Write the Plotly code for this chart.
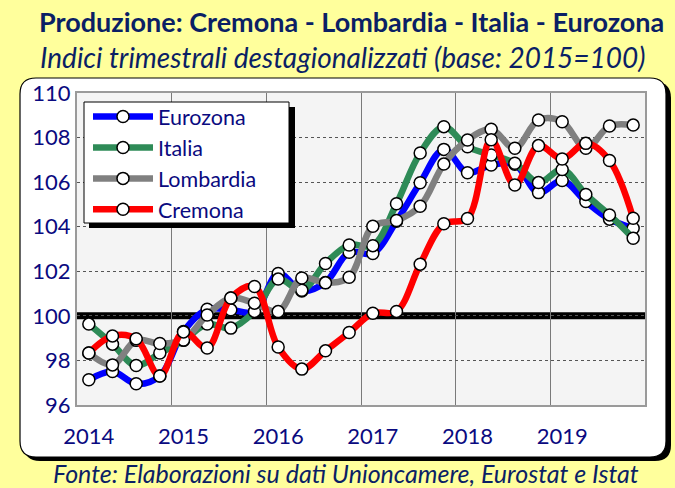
import plotly.graph_objects as go

# ---------------- data ----------------
years = [2014, 2015, 2016, 2017, 2018, 2019]
quarters = [1, 2, 3, 4]
tick_labels = ["2014", "2015", "2016", "2017", "2018", "2019"]

eurozona = [97.13, 97.50, 96.95, 97.30, 99.30, 100.30, 100.27, 100.18,
            101.90, 101.12, 101.50, 102.85, 102.80, 104.25, 105.97, 107.47,
            106.42, 106.77, 106.80, 105.53, 106.07, 105.13, 104.34, 103.93]
italia = [99.63, 98.73, 97.77, 98.33, 98.90, 99.63, 99.45, 100.20,
          101.65, 101.15, 102.35, 103.18, 103.15, 105.03, 107.31, 108.49,
          107.59, 107.22, 106.85, 105.98, 106.57, 105.45, 104.53, 103.48]
lombardia = [98.33, 97.80, 98.90, 98.76, 98.92, 100.04, 100.80, 100.57,
             100.19, 101.70, 101.48, 101.73, 104.02, 104.28, 104.92, 106.81,
             107.89, 108.37, 107.52, 108.79, 108.71, 107.52, 108.52, 108.56]
cremona = [98.33, 99.10, 98.97, 97.30, 99.28, 98.56, 100.80, 101.32,
           98.60, 97.61, 98.43, 99.25, 100.12, 100.20, 102.32, 104.13,
           104.37, 107.90, 105.87, 107.64, 107.04, 107.74, 106.97, 104.38]

series_names = ["Eurozona", "Italia", "Lombardia", "Cremona"]
series_values = [eurozona, italia, lombardia, cremona]
series_colors = ["#0000FF", "#2E8B57", "#808080", "#FF0000"]

# quarter centres on a continuous year axis
xq = [y + (q - 0.5) / 4 for y in years for q in quarters]
tick_pos = [y + 0.125 for y in years]

# ---------------- layout geometry ----------------
W, H = 675, 488
ML, MR, MT, MB = 77, 30, 93, 83
PW, PH = W - ML - MR, H - MT - MB


def px(x):
    return (x - ML) / PW


def py(y):
    return (H - MB - y) / PH


NAVY = "#0B1F65"
TICK = "#0A0A80"
FONT = "Lato, 'Open Sans', sans-serif"

fig = go.Figure()
for name, vals, col in zip(series_names, series_values, series_colors):
    fig.add_trace(go.Scatter(
        x=xq, y=vals, name=name, mode="lines+markers",
        line=dict(color=col, width=6.5, shape="spline", smoothing=1.0),
        marker=dict(symbol="circle", size=12, color="white",
                    line=dict(color="black", width=1.5)),
        legendgroup=name,
    ))


def rounded(x0, y0, x1, y1, r):
    rx, ry = r / PW, r / PH
    X0, X1 = px(x0), px(x1)
    Y0, Y1 = py(y0), py(y1)  # Y0 top, Y1 bottom
    return (f"M {X0 + rx} {Y0} L {X1 - rx} {Y0} Q {X1} {Y0} {X1} {Y0 - ry} "
            f"L {X1} {Y1 + ry} Q {X1} {Y1} {X1 - rx} {Y1} "
            f"L {X0 + rx} {Y1} Q {X0} {Y1} {X0} {Y1 + ry} "
            f"L {X0} {Y0 - ry} Q {X0} {Y0} {X0 + rx} {Y0} Z")


shapes = [
    dict(type="path", xref="paper", yref="paper", layer="below",
         path=rounded(24, 82, 671, 461, 16), fillcolor="black",
         line=dict(width=0)),
    dict(type="path", xref="paper", yref="paper", layer="below",
         path=rounded(20, 78, 666, 457, 16), fillcolor="white",
         line=dict(color="black", width=1.2)),
    dict(type="rect", xref="paper", yref="paper", layer="below",
         x0=0, x1=1, y0=0, y1=1, fillcolor="#F4F4F4", line=dict(width=0)),
    dict(type="line", xref="paper", yref="y", layer="between",
         x0=0, x1=1, y0=100, y1=100, line=dict(color="black", width=7)),
    # legend shadow + box
    dict(type="rect", xref="paper", yref="paper", layer="above",
         x0=px(89), x1=px(295), y0=py(228), y1=py(107),
         fillcolor="black", line=dict(width=0)),
    dict(type="rect", xref="paper", yref="paper", layer="above",
         x0=px(84), x1=px(289), y0=py(223), y1=py(102),
         fillcolor="white", line=dict(color="black", width=1)),
]

fig.update_layout(
    width=W, height=H,
    margin=dict(l=ML, r=MR, t=MT, b=MB),
    paper_bgcolor="#FFFF9C",
    plot_bgcolor="rgba(0,0,0,0)",
    shapes=shapes,
    showlegend=True,
    legend=dict(
        x=px(88), y=py(96), xanchor="left", yanchor="top",
        bgcolor="rgba(0,0,0,0)", borderwidth=0,
        font=dict(family=FONT, size=21.5, color=TICK),
        itemwidth=60, tracegroupgap=0, traceorder="normal",
    ),
    annotations=[
        dict(text="<b>Produzione: Cremona - Lombardia - Italia - Eurozona</b>",
             xref="paper", yref="paper", x=px(351), y=py(22),
             xanchor="center", yanchor="middle", showarrow=False,
             font=dict(family=FONT, size=27, color=NAVY)),
        dict(text="<i>Indici trimestrali destagionalizzati (base: 2015=100)</i>",
             xref="paper", yref="paper", x=px(343), y=py(57),
             xanchor="center", yanchor="middle", showarrow=False,
             font=dict(family=FONT, size=28, color=NAVY)),
        dict(text="<i>Fonte: Elaborazioni su dati Unioncamere, Eurostat e Istat</i>",
             xref="paper", yref="paper", x=px(346), y=py(473),
             xanchor="center", yanchor="middle", showarrow=False,
             font=dict(family=FONT, size=25, color=NAVY)),
    ],
)

fig.update_xaxes(
    range=[2014, 2020], tickvals=tick_pos, ticktext=tick_labels,
    showgrid=False, zeroline=False,
    ticks="outside", ticklen=11, tickcolor="rgba(0,0,0,0)",
    tickfont=dict(family=FONT, size=22, color=TICK),
    showline=True, mirror=True, linecolor="#9A9A9A", linewidth=2,
    minor=dict(tickvals=[2015, 2016, 2017, 2018, 2019], showgrid=True,
               gridcolor="#7A7A7A", gridwidth=1, ticks=""),
)
fig.update_yaxes(
    range=[96, 110], dtick=2, tick0=96,
    showgrid=True, gridcolor="#555555", gridwidth=1, griddash="dot",
    zeroline=False,
    tickfont=dict(family=FONT, size=22, color=TICK),
    showline=True, mirror=True, linecolor="#9A9A9A", linewidth=2,
)

fig.write_html("out.html", config={"displayModeBar": False},
               post_script="document.body.style.margin='0';document.body.style.padding='0';")
